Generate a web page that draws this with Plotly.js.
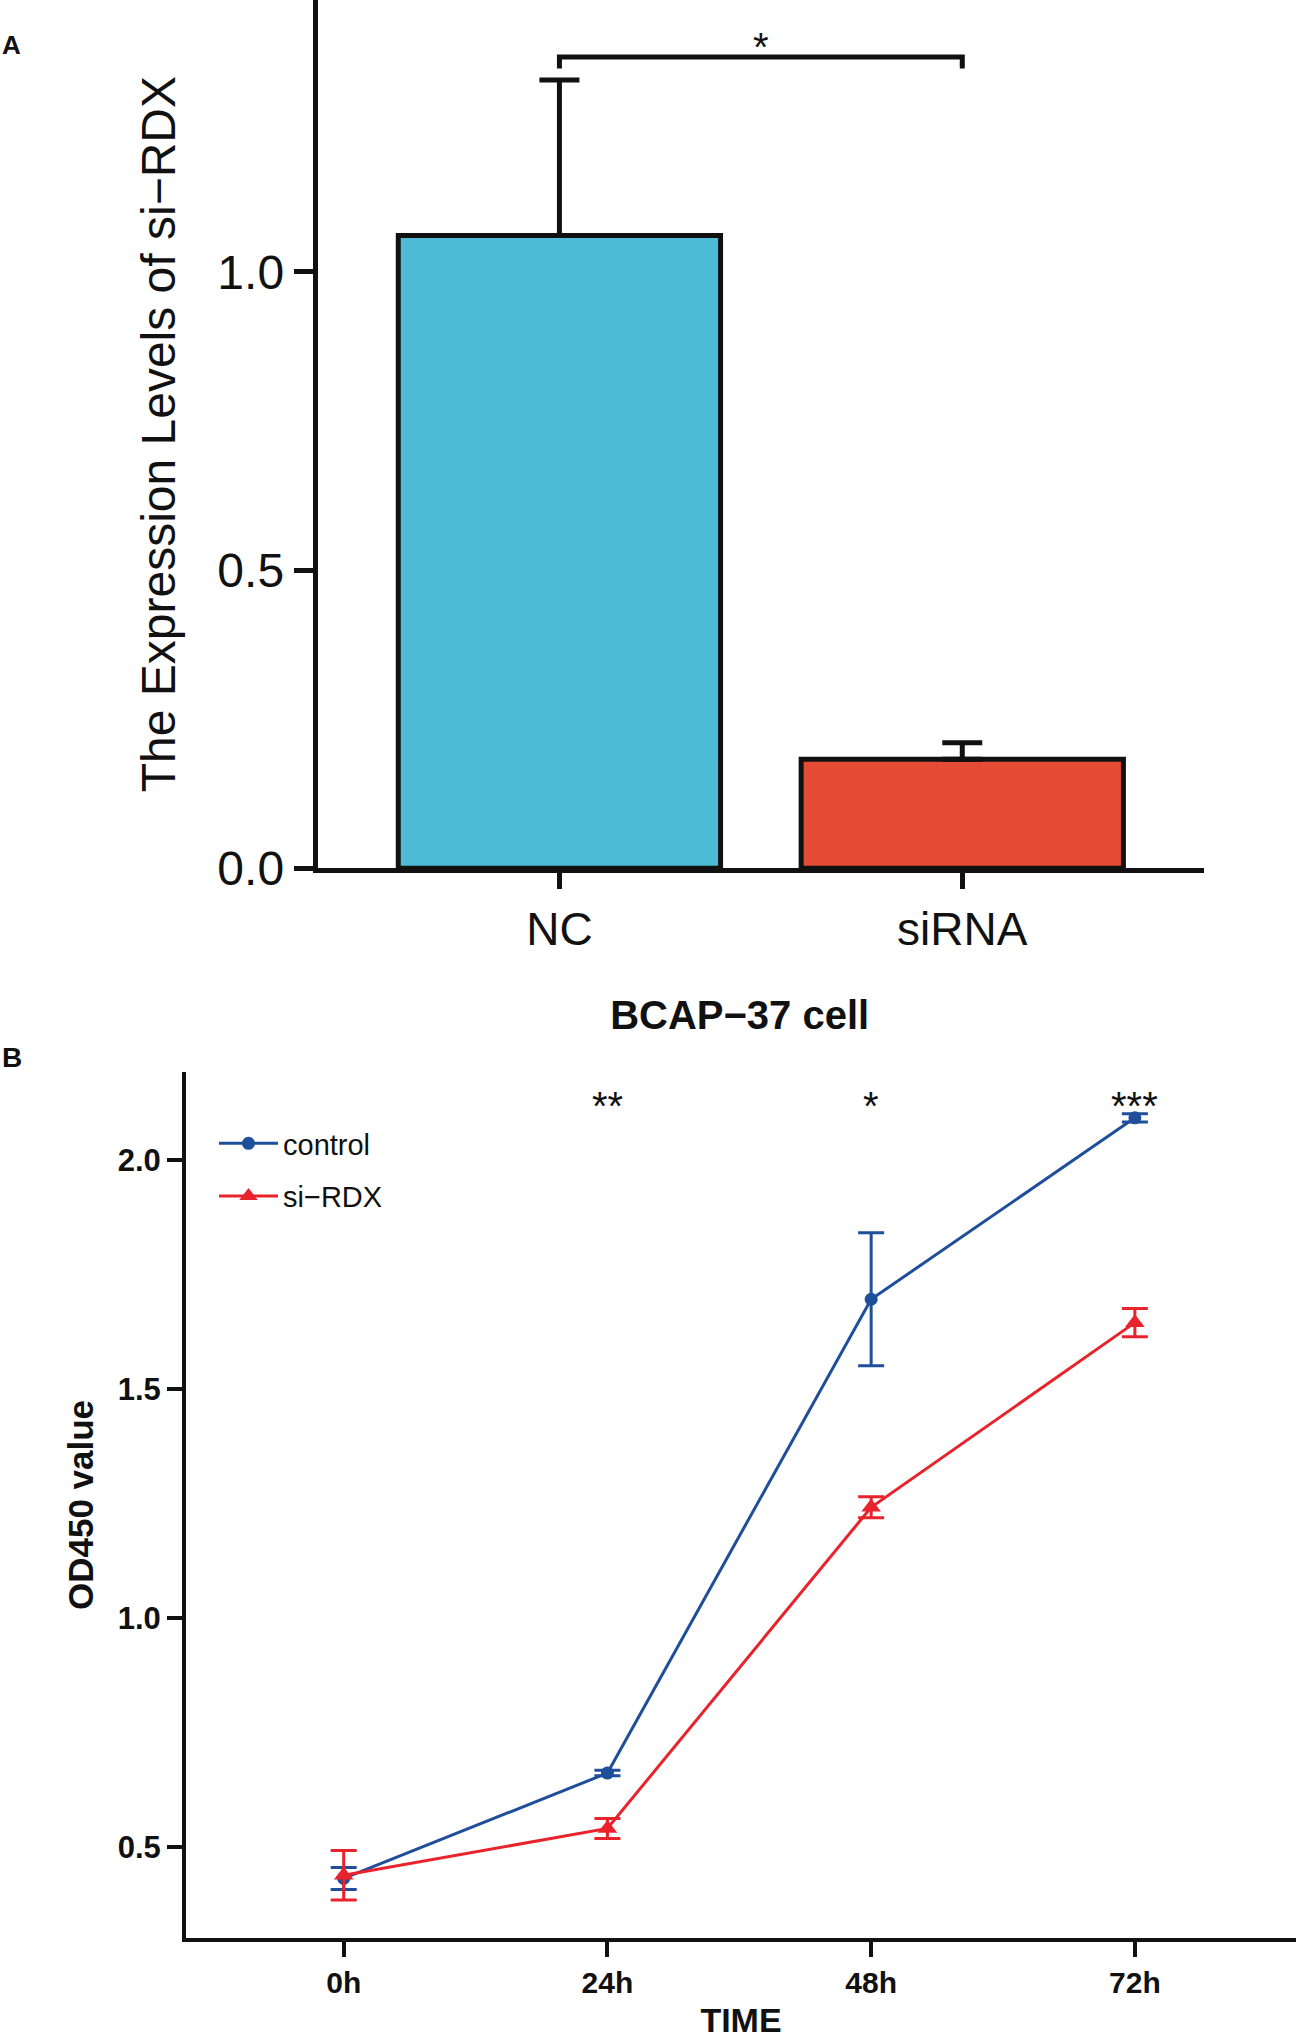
<!DOCTYPE html>
<html>
<head>
<meta charset="utf-8">
<script src="https://cdn.plot.ly/plotly-3.0.1.min.js"></script>
<style>
  body { margin: 0; background: #fff; }
  #myDiv { width: 1296px; height: 2039px; }
</style>
</head>
<body>
<div id="myDiv"></div>
<script>
// panel A: expression levels
var groups = ['NC', 'siRNA'];
var expr = [1.061, 0.183];
var exprErr = [0.261, 0.0275];
var barColors = ['#4DBBD5', '#E64B35'];

// panel B: CCK-8 growth curve
var times = ['0h', '24h', '48h', '72h'];
var control = [0.432, 0.662, 1.696, 2.092];
var controlErr = [0.024, 0.006, 0.145, 0.009];
var siRDX = [0.439, 0.541, 1.242, 1.645];
var siRDXErr = [0.054, 0.022, 0.023, 0.031];
var stars = ['', '**', '*', '***'];

var FONT = 'Liberation Sans, Arial, Helvetica, sans-serif';
var INK = '#111111';

var barTrace = {
  x: groups,
  y: expr,
  type: 'bar',
  xaxis: 'x',
  yaxis: 'y',
  marker: {color: barColors, line: {color: INK, width: 5}},
  error_y: {type: 'data', symmetric: false, array: exprErr, arrayminus: [0, 0],
            color: INK, thickness: 5, width: 20},
  showlegend: false,
  hoverinfo: 'skip'
};

var ctrlTrace = {
  x: times,
  y: control,
  name: 'control',
  type: 'scatter',
  mode: 'lines+markers',
  xaxis: 'x2',
  yaxis: 'y2',
  line: {color: '#1F4E9A', width: 3},
  marker: {symbol: 'circle', size: 13, color: '#1F4E9A'},
  error_y: {type: 'data', array: controlErr, color: '#1F4E9A', thickness: 3, width: 13},
  legendgroup: 'a'
};

var siTrace = {
  x: times,
  y: siRDX,
  name: 'si\u2212RDX',
  type: 'scatter',
  mode: 'lines+markers',
  xaxis: 'x2',
  yaxis: 'y2',
  line: {color: '#E8232B', width: 3},
  marker: {symbol: 'triangle-up', size: 17, color: '#E8232B'},
  error_y: {type: 'data', array: siRDXErr, color: '#E8232B', thickness: 3, width: 13},
  legendgroup: 'b'
};

var data = [barTrace, ctrlTrace, siTrace];

var annotations = [
  {text: '<b>A</b>', x: 0, y: 1 - 45 / 2039, xref: 'paper', yref: 'paper',
   xanchor: 'left', yanchor: 'middle',
   showarrow: false, font: {family: FONT, size: 26, color: INK}},
  {text: '<b>B</b>', x: 0, y: 1 - 1057 / 2039, xref: 'paper', yref: 'paper',
   xanchor: 'left', yanchor: 'middle',
   showarrow: false, font: {family: FONT, size: 28, color: INK}},
  {text: '*', x: 0.5, y: 1.39, xref: 'x', yref: 'y', yshift: -8,
   showarrow: false, font: {family: FONT, size: 40, color: INK}}
];
for (var i = 0; i < times.length; i++) {
  if (stars[i] == '') continue;
  annotations.push({text: stars[i], x: times[i], y: 2.135, xref: 'x2', yref: 'y2', yshift: -8,
    showarrow: false, font: {family: FONT, size: 40, color: INK}});
}

var shapes = [
  {type: 'path', xref: 'x', yref: 'y', path: 'M0,1.341 L0,1.3605 L1,1.3605 L1,1.341',
   line: {color: INK, width: 5}}
];

var layout = {
  width: 1296,
  height: 2039,
  margin: {l: 0, r: 0, t: 0, b: 0},
  paper_bgcolor: '#ffffff',
  plot_bgcolor: 'rgba(0,0,0,0)',
  font: {family: FONT, color: INK},
  bargap: 0.2,
  title: {text: '<b>BCAP\u221237 cell</b>', x: 739.7 / 1296, y: 1 - 1014.7 / 2039,
          xanchor: 'center', yanchor: 'middle', xref: 'paper', yref: 'paper',
          font: {family: FONT, size: 40, color: INK}},
  xaxis: {
    domain: [317.7 / 1296, 1204 / 1296], anchor: 'y', type: 'category',
    range: [-0.6, 1.6], showline: true, linewidth: 5, linecolor: INK,
    ticks: 'outside', ticklen: 16, tickwidth: 5, tickcolor: INK,
    tickfont: {family: FONT, size: 46, color: INK},
    showgrid: false, zeroline: false, fixedrange: true
  },
  yaxis: {
    domain: [1 - 868.3 / 2039, 1], anchor: 'x',
    range: [0, 1.456], tickvals: [0, 0.5, 1.0], tickformat: '.1f',
    showline: true, linewidth: 5, linecolor: INK,
    ticks: 'outside', ticklen: 19, tickwidth: 5, tickcolor: INK,
    tickfont: {family: FONT, size: 48, color: INK},
    title: {text: 'The Expression Levels of si\u2212RDX', standoff: 28,
            font: {family: FONT, size: 48, color: INK}},
    showgrid: false, zeroline: false, fixedrange: true
  },
  xaxis2: {
    domain: [186 / 1296, 1], anchor: 'y2', type: 'category',
    range: [-0.598, 3.611], showline: true, linewidth: 4, linecolor: INK,
    ticks: 'outside', ticklen: 15, tickwidth: 4, tickcolor: INK,
    tickfont: {family: FONT, size: 30, color: INK, weight: 'bold'},
    title: {text: 'TIME', standoff: 22, font: {family: FONT, size: 34, color: INK, weight: 'bold'}},
    showgrid: false, zeroline: false, fixedrange: true
  },
  yaxis2: {
    domain: [1 - 1938 / 2039, 1 - 1072 / 2039], anchor: 'x2',
    range: [0.302, 2.192], tickvals: [0.5, 1.0, 1.5, 2.0], tickformat: '.1f',
    showline: true, linewidth: 4, linecolor: INK,
    ticks: 'outside', ticklen: 15, tickwidth: 4, tickcolor: INK,
    tickfont: {family: FONT, size: 31, color: INK, weight: 'bold'},
    title: {text: 'OD450 value', standoff: 14, font: {family: FONT, size: 35, color: INK, weight: 'bold'}},
    showgrid: false, zeroline: false, fixedrange: true
  },
  showlegend: true,
  legend: {
    x: 214 / 1296, y: 1 - 1118 / 2039, xanchor: 'left', yanchor: 'top',
    bgcolor: 'rgba(0,0,0,0)', borderwidth: 0,
    font: {family: FONT, size: 29, color: INK},
    itemwidth: 59, tracegroupgap: 12, traceorder: 'grouped'
  },
  annotations: annotations,
  shapes: shapes
};

Plotly.newPlot('myDiv', data, layout, {displayModeBar: false, staticPlot: true});
</script>
</body>
</html>
